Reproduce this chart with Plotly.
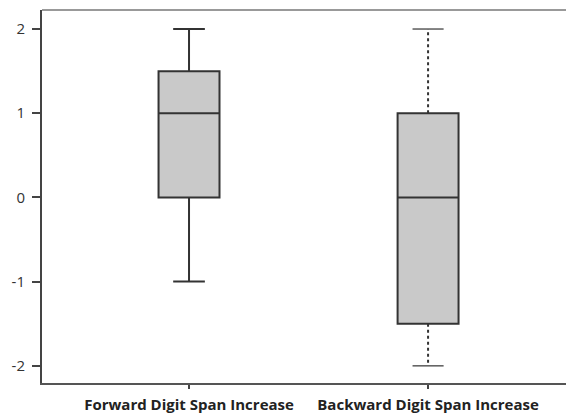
import plotly.graph_objects as go

categories = ["Forward Digit Span Increase", "Backward Digit Span Increase"]
positions = [0, 1]
q1 = [0.0, -1.5]
median = [1.0, 0.0]
q3 = [1.5, 1.0]
lower = [-1.0, -2.0]
upper = [2.0, 2.0]
y_ticks = [-2, -1, 0, 1, 2]
y_ticktext = ["-2", "-1", "0", "1", "2"]

fig = go.Figure()

# Forward: standard box with solid whiskers
fig.add_trace(go.Box(
    x=[positions[0]], q1=[q1[0]], median=[median[0]], q3=[q3[0]],
    lowerfence=[lower[0]], upperfence=[upper[0]],
    width=0.255, whiskerwidth=0.52,
    fillcolor="#c9c9c9", line=dict(color="#333333", width=2),
    boxpoints=False, showlegend=False, hoverinfo="skip"))

# Backward: box only, whiskers drawn dotted below
fig.add_trace(go.Box(
    x=[positions[1]], q1=[q1[1]], median=[median[1]], q3=[q3[1]],
    lowerfence=[q1[1]], upperfence=[q3[1]],
    width=0.255, whiskerwidth=0,
    fillcolor="#c9c9c9", line=dict(color="#333333", width=2),
    boxpoints=False, showlegend=False, hoverinfo="skip"))

cap = 0.065
xb = positions[1]
# dotted whiskers
fig.add_trace(go.Scatter(
    x=[xb, xb, None, xb, xb],
    y=[q3[1], upper[1], None, q1[1], lower[1]],
    mode="lines", line=dict(color="#333333", width=2, dash="dot"),
    showlegend=False, hoverinfo="skip"))
# caps
fig.add_trace(go.Scatter(
    x=[xb - cap, xb + cap, None, xb - cap, xb + cap],
    y=[upper[1], upper[1], None, lower[1], lower[1]],
    mode="lines", line=dict(color="#666666", width=1.6),
    showlegend=False, hoverinfo="skip"))

fig.update_layout(
    width=566, height=417,
    margin=dict(l=42, r=0, t=10, b=34),
    paper_bgcolor="white", plot_bgcolor="white",
    font=dict(family="Open Sans", color="#333333"),
    xaxis=dict(
        range=[-0.615, 1.577], tickvals=positions, ticktext=categories,
        showgrid=False, zeroline=False, showline=True, linecolor="#555555", linewidth=2,
        ticks="outside", ticklen=4, tickwidth=2, tickcolor="#444444",
        tickfont=dict(family="Open Sans", size=15, color="#222222", weight=700),
        ticklabelstandoff=3,
    ),
    yaxis=dict(
        range=[-2.204, 2.226], tickvals=y_ticks, ticktext=y_ticktext,
        showgrid=False, zeroline=False, showline=True, linecolor="#444444", linewidth=2,
        ticks="outside", ticklen=8, tickwidth=2, tickcolor="#444444",
        tickfont=dict(family="Open Sans", size=15, color="#333333"),
        ticklabelstandoff=4,
    ),
    shapes=[dict(type="line", xref="paper", yref="paper", x0=0, x1=1, y0=1, y1=1,
                 line=dict(color="#999999", width=2))],
)

fig.write_html("out.html")
